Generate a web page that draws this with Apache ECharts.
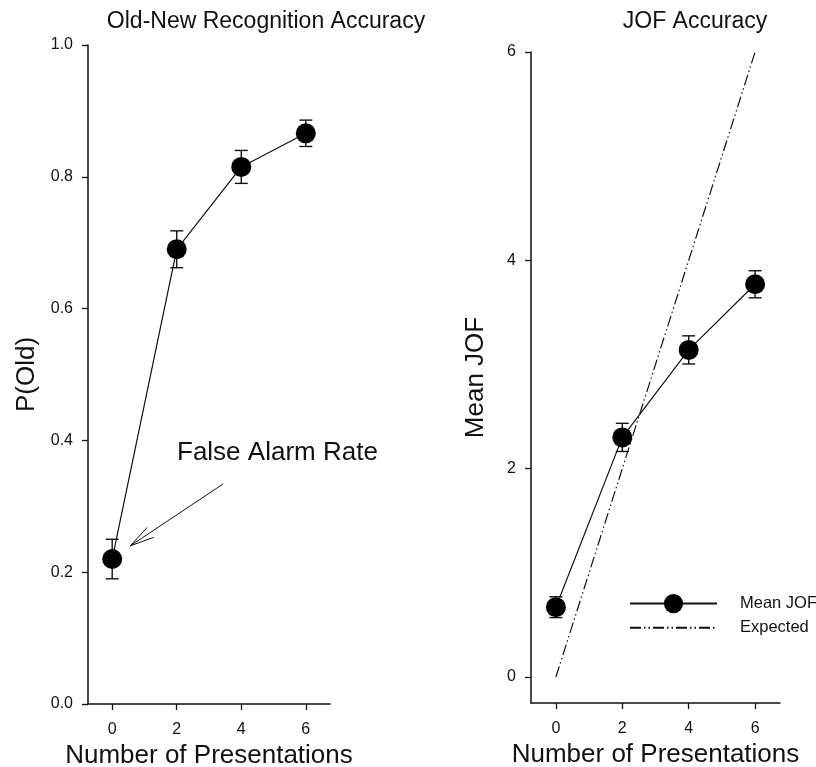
<!DOCTYPE html>
<html>
<head>
<meta charset="utf-8">
<script src="https://cdn.jsdelivr.net/npm/echarts@6/dist/echarts.min.js"></script>
<style>html,body{margin:0;padding:0;background:#fff;}#c{width:816px;height:767px;}</style>
</head>
<body>
<div id="c"></div>
<script>
const presentations = [0, 2, 4, 6];
const xTicks = [0, 2, 4, 6];
const pOld = [0.22, 0.69, 0.815, 0.866];
const pOldErr = [0.03, 0.028, 0.025, 0.02];
const pOldTicks = [0, 0.2, 0.4, 0.6, 0.8, 1.0];
const meanJOF = [0.67, 2.30, 3.14, 3.77];
const meanJOFErr = [0.10, 0.135, 0.135, 0.13];
const jofTicks = [0, 2, 4, 6];
const expectedX = [0, 6];
const expectedY = [0, 6];
const arrowFrom = [3.44, 0.334];
const arrowTo = [0.56, 0.240];

const FONT = 'Liberation Sans, Arial, sans-serif';
const INK = '#111';

function errRender(params, api) {
  const x = api.value(0), lo = api.value(1), hi = api.value(2);
  const t = api.coord([x, hi]), b = api.coord([x, lo]);
  const w = 6.5;
  const st = { stroke: INK, lineWidth: 1.4 };
  return { type: 'group', children: [
    { type: 'line', shape: { x1: t[0], y1: t[1], x2: b[0], y2: b[1] }, style: st },
    { type: 'line', shape: { x1: t[0] - w, y1: t[1], x2: t[0] + w, y2: t[1] }, style: st },
    { type: 'line', shape: { x1: b[0] - w, y1: b[1], x2: b[0] + w, y2: b[1] }, style: st }
  ]};
}

const axisCommon = {
  axisLine: { show: true, onZero: false, lineStyle: { color: INK, width: 1.5 } },
  axisTick: { show: true, length: 6, lineStyle: { color: INK, width: 1.3 } },
  splitLine: { show: false },
  axisLabel: { color: INK, fontFamily: FONT, fontSize: 16 },
  nameTextStyle: { color: INK, fontFamily: FONT, fontSize: 26 }
};

function xAxisFor(gridIndex) {
  return Object.assign({}, axisCommon, {
    type: 'value', gridIndex, min: -0.75, max: 6.75,
    name: 'Number of Presentations', nameLocation: 'middle', nameGap: 35,
    axisTick: Object.assign({}, axisCommon.axisTick, { customValues: xTicks }),
    axisLabel: Object.assign({}, axisCommon.axisLabel, { customValues: xTicks, margin: 18 })
  });
}

const chart = echarts.init(document.getElementById('c'), null, { renderer: 'canvas' });
const option = {
  animation: false,
  backgroundColor: '#fff',
  title: [
    { text: 'Old-New Recognition Accuracy', left: 261, top: 5, textAlign: 'center',
      textStyle: { color: INK, fontFamily: FONT, fontSize: 23, fontWeight: 'normal' } },
    { text: 'JOF Accuracy', left: 690, top: 5, textAlign: 'center',
      textStyle: { color: INK, fontFamily: FONT, fontSize: 23, fontWeight: 'normal' } }
  ],
  grid: [
    { left: 88, top: 45, width: 242, height: 659, outerBoundsMode: 'none', containLabel: false },
    { left: 531, top: 52, width: 249, height: 651, outerBoundsMode: 'none', containLabel: false }
  ],
  xAxis: [xAxisFor(0), xAxisFor(1)],
  yAxis: [
    Object.assign({}, axisCommon, {
      type: 'value', gridIndex: 0, min: 0, max: 1,
      name: 'P(Old)', nameLocation: 'middle', nameGap: 48,
      axisTick: Object.assign({}, axisCommon.axisTick, { customValues: pOldTicks }),
      axisLabel: Object.assign({}, axisCommon.axisLabel, { customValues: pOldTicks, margin: 15,
        formatter: v => v.toFixed(1) })
    }),
    Object.assign({}, axisCommon, {
      type: 'value', gridIndex: 1, min: -0.25, max: 6,
      name: 'Mean JOF', nameLocation: 'middle', nameGap: 42,
      axisTick: Object.assign({}, axisCommon.axisTick, { customValues: jofTicks }),
      axisLabel: Object.assign({}, axisCommon.axisLabel, { customValues: jofTicks, margin: 15 })
    })
  ],
  legend: {
    left: 629, top: 594, padding: 0, orient: 'vertical', itemWidth: 87, itemHeight: 24, itemGap: 5,
    textStyle: { color: INK, fontFamily: FONT, fontSize: 16.5, padding: [0, 0, 0, 18] },
    data: ['Mean JOF', { name: 'Expected', itemStyle: { opacity: 0 } }]
  },
  series: [
    { name: 'P(Old)', type: 'line', xAxisIndex: 0, yAxisIndex: 0,
      data: presentations.map((x, i) => [x, pOld[i]]),
      symbol: 'circle', symbolSize: 20, itemStyle: { color: '#000' },
      lineStyle: { color: INK, width: 1.2 }, z: 3 },
    { type: 'custom', xAxisIndex: 0, yAxisIndex: 0, renderItem: errRender,
      data: presentations.map((x, i) => [x, pOld[i] - pOldErr[i], pOld[i] + pOldErr[i]]), z: 2 },
    { name: 'Expected', type: 'line', xAxisIndex: 1, yAxisIndex: 1,
      data: expectedX.map((x, i) => [x, expectedY[i]]), symbol: 'none',
      itemStyle: { color: INK },
      lineStyle: { color: INK, width: 1.2, type: [11, 3, 1.5, 3, 1.5, 3] }, z: 1 },
    { name: 'Mean JOF', type: 'line', xAxisIndex: 1, yAxisIndex: 1,
      data: presentations.map((x, i) => [x, meanJOF[i]]),
      symbol: 'circle', symbolSize: 20, itemStyle: { color: '#000' },
      lineStyle: { color: INK, width: 1.2 }, z: 3 },
    { type: 'custom', xAxisIndex: 1, yAxisIndex: 1, renderItem: errRender,
      data: presentations.map((x, i) => [x, meanJOF[i] - meanJOFErr[i], meanJOF[i] + meanJOFErr[i]]), z: 2 }
  ]
};
chart.setOption(option);

// annotation arrow + text
const a = chart.convertToPixel({ gridIndex: 0 }, arrowFrom);
const b = chart.convertToPixel({ gridIndex: 0 }, arrowTo);
const ang = Math.atan2(a[1] - b[1], a[0] - b[0]);
const hl = 25, spread = 0.24;
const h1 = [b[0] + hl * Math.cos(ang + spread), b[1] + hl * Math.sin(ang + spread)];
const h2 = [b[0] + hl * Math.cos(ang - spread), b[1] + hl * Math.sin(ang - spread)];
chart.setOption({
  graphic: [
    { type: 'line', shape: { x1: a[0], y1: a[1], x2: b[0], y2: b[1] }, style: { stroke: INK, lineWidth: 1 } },
    { type: 'line', shape: { x1: b[0], y1: b[1], x2: h1[0], y2: h1[1] }, style: { stroke: INK, lineWidth: 1 } },
    { type: 'line', shape: { x1: b[0], y1: b[1], x2: h2[0], y2: h2[1] }, style: { stroke: INK, lineWidth: 1 } },
    { type: 'text', left: 177, top: 440, style: { text: 'False Alarm Rate', fill: INK, font: '26px ' + FONT } }
  ]
});
</script>
</body>
</html>
